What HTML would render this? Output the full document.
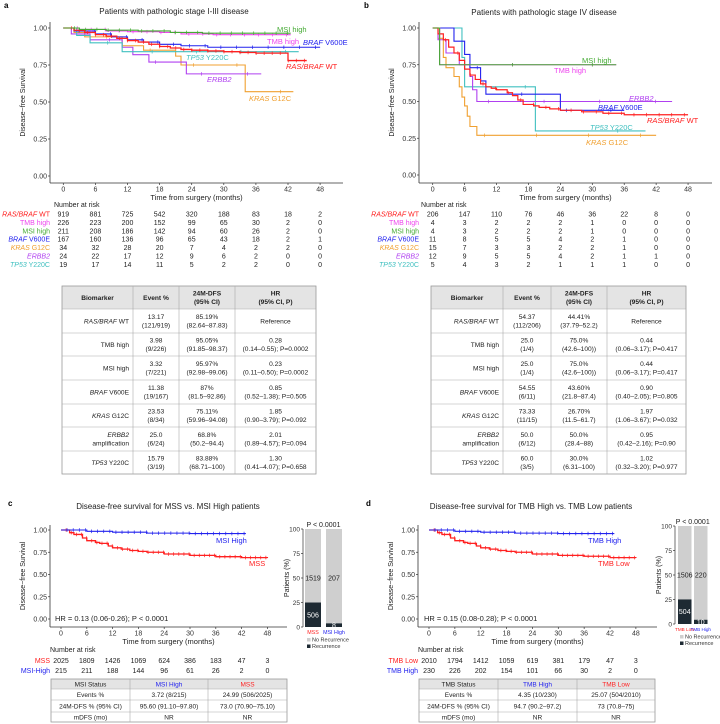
<!DOCTYPE html>
<html><head><meta charset="utf-8"><style>
html,body{margin:0;padding:0;background:#fff}
svg{display:block;font-family:"Liberation Sans",Arial,sans-serif}
</style></head><body>
<svg id="fig" width="720" height="724" viewBox="0 0 720 724" xmlns="http://www.w3.org/2000/svg"></svg>
<script>
// ---------- DATA ----------
const timeTicks = [0,6,12,18,24,30,36,42,48];
const survTicks = [0,0.25,0.5,0.75,1];
const survTickLabels = ["0.00","0.25","0.50","0.75","1.00"];
// Panel a (stage I-III)
const a_ras_t=[0,2,4,6,8,10,12,14,16,18,20,22,24,27,30,33,36,42,45.5];
const a_ras_s=[1,0.985,0.97,0.955,0.945,0.93,0.915,0.905,0.89,0.875,0.865,0.855,0.85,0.845,0.84,0.835,0.83,0.78,0.78];
const a_tmb_t=[0,3,8,12,18,22,28,42.5];
const a_tmb_s=[1,0.99,0.98,0.975,0.97,0.96,0.955,0.955];
const a_msi_t=[0,3,8,14,20,26,42.5];
const a_msi_s=[1,0.99,0.985,0.98,0.97,0.965,0.965];
const a_braf_t=[0,2,6,9,12,15,18,22,27,48];
const a_braf_s=[1,0.98,0.96,0.94,0.92,0.905,0.89,0.88,0.87,0.87];
const a_kras_t=[0,2,4,11,15,21,22,34,43];
const a_kras_s=[1,0.97,0.94,0.88,0.85,0.81,0.75,0.57,0.57];
const a_erbb2_t=[0,1.5,5,11,13,16,23,37];
const a_erbb2_s=[1,0.96,0.92,0.87,0.82,0.77,0.69,0.69];
const a_tp53_t=[0,2.5,5,11,44];
const a_tp53_s=[1,0.95,0.9,0.84,0.84];
// Panel b (stage IV)
const b_ras_t=[0,1,2,3,4,5,6,7,8,9,10,11,12,14,15,16,17,19,20,22,24,28,32,36,48];
const b_ras_s=[1,0.96,0.92,0.87,0.83,0.78,0.72,0.68,0.65,0.62,0.6,0.59,0.58,0.56,0.54,0.51,0.48,0.47,0.46,0.45,0.44,0.43,0.42,0.41,0.41];
const b_tmb_t=[0,1.3,34.5];
const b_tmb_s=[1,0.75,0.75];
const b_msi_t=[0,1.3,34.5];
const b_msi_s=[1,0.75,0.75];
const b_braf_t=[0,4,6,7,9,10,24,36];
const b_braf_s=[1,0.91,0.82,0.73,0.64,0.55,0.44,0.44];
const b_kras_t=[0,1,2,2.5,4,5,5.5,6,6.5,7,8.3,42];
const b_kras_s=[1,0.93,0.8,0.73,0.67,0.6,0.53,0.47,0.4,0.33,0.27,0.27];
const b_erbb2_t=[0,1,2.5,5,7,7.5,8.3,45];
const b_erbb2_s=[1,0.92,0.83,0.75,0.67,0.58,0.5,0.5];
const b_tp53_t=[0,5.5,6,19.3,40];
const b_tp53_s=[1,0.8,0.6,0.3,0.3];
// Panel c
const c_mss_t=[0,2,3,5,6,8,9,11,12,14,16,18,20,24,30,36,42,48];
const c_mss_s=[1,0.97,0.95,0.91,0.88,0.86,0.85,0.82,0.8,0.785,0.77,0.76,0.75,0.73,0.715,0.7,0.69,0.685];
const c_msi_t=[0,6,12,20,30,43];
const c_msi_s=[1,0.985,0.975,0.965,0.96,0.96];
// Panel d
const d_low_t=[0,2,3,5,6,8,9,11,12,14,16,18,20,24,30,36,42,48];
const d_low_s=[1,0.97,0.95,0.91,0.88,0.86,0.85,0.82,0.8,0.785,0.77,0.76,0.75,0.73,0.715,0.705,0.69,0.685];
const d_high_t=[0,6,12,20,30,43];
const d_high_s=[1,0.985,0.975,0.965,0.96,0.96];
// Bars
const c_groups=["MSS","MSI High"];
const c_rec=[506,8];
const c_norec=[1519,207];
const d_groups=["TMB Low","TMB High"];
const d_rec=[504,10];
const d_norec=[1506,220];
// Risk tables
const a_risk=[[919,881,725,542,320,188,83,18,2],[226,223,200,152,99,65,30,2,0],[211,208,186,142,94,60,26,2,0],[167,160,136,96,65,43,18,2,1],[34,32,28,20,7,4,2,2,0],[24,22,17,12,9,6,2,0,0],[19,17,14,11,5,2,2,0,0]];
const b_risk=[[206,147,110,76,46,36,22,8,0],[4,3,2,2,2,1,0,0,0],[4,3,2,2,2,1,0,0,0],[11,8,5,5,4,2,1,0,0],[15,7,3,3,2,2,1,0,0],[12,9,5,5,4,2,1,1,0],[5,4,3,2,1,1,1,0,0]];
const c_risk=[[2025,1809,1426,1069,624,386,183,47,3],[215,211,188,144,96,61,26,2,0]];
const d_risk=[[2010,1794,1412,1059,619,381,179,47,3],[230,226,202,154,101,66,30,2,0]];

const C={ras:"#ff2020",tmb:"#ee44ee",msi:"#44aa33",braf:"#2222ee",kras:"#f0a030",erbb2:"#b040f0",tp53:"#40c0c0"};
const NS="http://www.w3.org/2000/svg";
const svg=document.getElementById('fig');
function el(tag,attrs,parent){const e=document.createElementNS(NS,tag);for(const k in attrs)e.setAttribute(k,attrs[k]);(parent||svg).appendChild(e);return e;}
function txt(x,y,s,size,fill,anchor,extra){const t=el('text',Object.assign({x:x,y:y,'font-size':size,fill:fill||'#222','text-anchor':anchor||'start'},extra||{}));t.textContent=s;return t;}
function rich(x,y,parts,size,fill,anchor){const t=el('text',{x:x,y:y,'font-size':size,fill:fill,'text-anchor':anchor||'start'});parts.forEach(p=>{const s=el('tspan',p[1]?{'font-style':'italic'}:{},t);s.textContent=p[0];});return t;}

function axes(P,name){
  const g=el('g',{});
  
  
  el('line',{x1:P.ax,y1:P.top,x2:P.ax,y2:P.base,stroke:'#333','stroke-width':0.8},g);
  el('line',{x1:P.ax,y1:P.base,x2:P.right,y2:P.base,stroke:'#333','stroke-width':0.8},g);
  survTicks.forEach((v,i)=>{const y=P.sy(v);el('line',{x1:P.ax-2,y1:y,x2:P.ax,y2:y,stroke:'#333','stroke-width':0.7},g);txt(P.ax-3,y+2.5,survTickLabels[i],P.fs,'#333','end');});
  timeTicks.forEach(t=>{const x=P.sx(t);el('line',{x1:x,y1:P.base,x2:x,y2:P.base+2,stroke:'#333','stroke-width':0.7},g);txt(x,P.base+8.5,String(t),P.fs,'#333','middle');});
  const xt=txt((P.ax+P.right)/2,P.base+17,'Time from surgery (months)',P.fs+0.5,'#222','middle');
  const yt=txt(0,0,'Disease−free Survival',P.fs,'#222','middle',{transform:`translate(${P.ytx},${(P.top+P.base)/2}) rotate(-90)`});
}
function stepAt(T,S,t){let s=S[0];for(let i=0;i<T.length;i++){if(T[i]<=t)s=S[i];}return s;}
function curve(P,T,S,color,name,w,ncens){
  let d=`M${P.sx(T[0])},${P.sy(S[0])}`;
  for(let i=1;i<T.length;i++){d+=`H${P.sx(T[i])}V${P.sy(S[i])}`;}
  const p=el('path',{d:d,fill:'none',stroke:color,'stroke-width':w||1.1});
  
  
  const end=T[T.length-1];const n=ncens||6;
  for(let k=1;k<=n;k++){const t=end*k/(n+0.3);const y=P.sy(stepAt(T,S,t));const x=P.sx(t);el('line',{x1:x,y1:y-1.8,x2:x,y2:y+1.8,stroke:color,'stroke-width':0.7});}
}
function risk(P,rows,labels,y0,dy,fs){
  const h=txt(P.ax-(P.riskHeadOff||0),y0-dy-1,'Number at risk',fs,'#222','start');
  rows.forEach((r,i)=>{const y=y0+i*dy;const lab=rich(P.ax,y,labels[i][0],fs,labels[i][1],'end');
    r.forEach((v,j)=>{const t=txt(P.sx(timeTicks[j]),y,String(v),fs,'#222','middle');});});
}
function table(x,cols,ys,header,rows,fs,hdrBold,headColors){
  const g=el('g',{});
  
  
  const x1=cols[cols.length-1];
  el('rect',{x:x,y:ys[0],width:x1-x,height:ys[1]-ys[0],fill:'#e4e4e4'},g);
  el('rect',{x:x,y:ys[0],width:x1-x,height:ys[ys.length-1]-ys[0],fill:'none',stroke:'#999','stroke-width':0.8},g);
  ys.slice(1,-1).forEach(y=>el('line',{x1:x,y1:y,x2:x1,y2:y,stroke:'#aaa','stroke-width':0.6},g));
  cols.slice(0,-1).forEach((c,i)=>{if(i>0)el('line',{x1:c,y1:ys[0],x2:c,y2:ys[ys.length-1],stroke:'#aaa','stroke-width':0.6},g);});
  const all=[header].concat(rows);
  all.forEach((row,ri)=>{const ya=ys[ri],yb=ys[ri+1];row.forEach((cell,ci)=>{
    const xa=ci===0?x:cols[ci],xb=cols[ci+1];const lines=cell.lines;const cx=cell.align==='end'?xb-4:(xa+xb)/2;
    const lh=fs*1.3;const startY=(ya+yb)/2-(lines.length-1)*lh/2+fs*0.35;
    lines.forEach((ln,li)=>{const t=rich(cx,startY+li*lh,ln,fs,(ri===0&&headColors)?headColors[ci]:'#222',cell.align==='end'?'end':'middle');if(ri===0&&hdrBold)t.setAttribute('font-weight','bold');});
  });});
}
function bars(B,groups,rec,norec,name){
  const g=el('g',{});
  
  
  const sy=v=>B.y0-(v/100)*(B.y0-B.y100);
  el('line',{x1:B.ax,y1:B.y100,x2:B.ax,y2:B.y0,stroke:'#333','stroke-width':0.7},g);
  [0,25,50,75,100].forEach(v=>{el('line',{x1:B.ax-2,y1:sy(v),x2:B.ax,y2:sy(v),stroke:'#333','stroke-width':0.7},g);txt(B.ax-3,sy(v)+2.5,String(v),6.5,'#333','end',{},g);});
  const yt=txt(0,0,'Patients (%)',7,'#222','middle',{transform:`translate(${B.ax-14},${(B.y0+B.y100)/2}) rotate(-90)`});
  groups.forEach((gname,i)=>{
    const tot=rec[i]+norec[i];const pr=rec[i]/tot*100;const x=B.xs[i],w=B.w;
    const r1=el('rect',{x:x,y:sy(100),width:w,height:sy(pr)-sy(100),fill:'#cfcfcf'},g);
    const r2=el('rect',{x:x,y:sy(pr),width:w,height:sy(0)-sy(pr),fill:'#1e2a33'},g);
    txt(x+w/2,sy(50)+2.5,String(norec[i]),7,'#222','middle');
    txt(x+w/2,sy(pr/2)+2.5,String(rec[i]),7,'#fff','middle');
    txt(x+w/2,B.y0+7,gname,B.gfs||5.5,B.cols[i],'middle');
  });
  txt((B.xs[0]+B.xs[1]+B.w)/2,B.y100-2,'P < 0.0001',7,'#222','middle');
  const lx=B.xs[0]+2;
  el('rect',{x:lx,y:B.y0+11,width:3.5,height:3.5,fill:'#cfcfcf'},g);txt(lx+5,B.y0+14.5,'No Recurrence',5.5,'#333','start');
  el('rect',{x:lx,y:B.y0+17.5,width:3.5,height:3.5,fill:'#1e2a33'},g);txt(lx+5,B.y0+21,'Recurrence',5.5,'#333','start');
}

// ---------- PANEL A ----------
const PA={ax:50,top:22,base:183,right:343,fs:7,ytx:25,sx:t=>63.3+t*5.35,sy:s=>176-s*148};
txt(4,8,'a',8,'#000','start',{'font-weight':'bold'});
txt(174,14,'Patients with pathologic stage I-III disease',8,'#222','middle');
axes(PA,'panel-a');
curve(PA,a_kras_t,a_kras_s,C.kras,'a-kras',1.1,5);
curve(PA,a_erbb2_t,a_erbb2_s,C.erbb2,'a-erbb2',1.1,4);
curve(PA,a_tp53_t,a_tp53_s,C.tp53,'a-tp53',1.1,5);
curve(PA,a_braf_t,a_braf_s,C.braf,'a-braf',1.1,16);
curve(PA,a_ras_t,a_ras_s,C.ras,'a-ras',1.3,30);
curve(PA,a_tmb_t,a_tmb_s,C.tmb,'a-tmb',1.1,16);
curve(PA,a_msi_t,a_msi_s,C.msi,'a-msi',1.1,20);
rich(277,32,[['MSI high',0]],7.5,C.msi);
rich(267,44,[['TMB high',0]],7.5,C.tmb);
rich(303,45,[['BRAF',1],[' V600E',0]],7.5,C.braf);
rich(186,60,[['TP53',1],[' Y220C',0]],7.5,C.tp53);
rich(286,69,[['RAS/BRAF',1],[' WT',0]],7.5,C.ras);
rich(207,82,[['ERBB2',1]],7.5,C.erbb2);
rich(249,101,[['KRAS',1],[' G12C',0]],7.5,C.kras);
const riskLabels=[[[['RAS/BRAF',1],[' WT',0]],C.ras],[[['TMB high',0]],C.tmb],[[['MSI high',0]],C.msi],[[['BRAF',1],[' V600E',0]],C.braf],[[['KRAS',1],[' G12C',0]],C.kras],[[['ERBB2',1]],C.erbb2],[[['TP53',1],[' Y220C',0]],C.tp53]];
PA.riskHeadOff=-4;
risk(PA,a_risk,riskLabels,216.5,8.4,7);

// ---------- PANEL B ----------
const PB={ax:419,top:22,base:183,right:712,fs:7,ytx:394,sx:t=>432.7+t*5.32,sy:s=>175-s*147};
txt(364,8,'b',8,'#000','start',{'font-weight':'bold'});
txt(544,15,'Patients with pathologic stage IV disease',8,'#222','middle');
axes(PB,'panel-b');
curve(PB,b_kras_t,b_kras_s,C.kras,'b-kras',1.1,4);
curve(PB,b_tp53_t,b_tp53_s,C.tp53,'b-tp53',1.1,2);
curve(PB,b_erbb2_t,b_erbb2_s,C.erbb2,'b-erbb2',1.1,4);
curve(PB,b_braf_t,b_braf_s,C.braf,'b-braf',1.1,4);
curve(PB,b_ras_t,b_ras_s,C.ras,'b-ras',1.2,20);
curve(PB,b_tmb_t,b_tmb_s,C.tmb,'b-tmb',1.1,2);
curve(PB,b_msi_t,b_msi_s,C.msi,'b-msi',1.1,2);
rich(582,63,[['MSI high',0]],7.5,C.msi);
rich(554,73,[['TMB high',0]],7.5,C.tmb);
rich(629,101,[['ERBB2',1]],7.5,C.erbb2);
rich(598,110,[['BRAF',1],[' V600E',0]],7.5,C.braf);
rich(647,123,[['RAS/BRAF',1],[' WT',0]],7.5,C.ras);
rich(590,130,[['TP53',1],[' Y220C',0]],7.5,C.tp53);
rich(586,145,[['KRAS',1],[' G12C',0]],7.5,C.kras);
PB.riskHeadOff=-2;
risk(PB,b_risk,riskLabels,216.5,8.4,7);

// ---------- TABLES a/b ----------
const tys=[286,309,333,356,380,404,427,451,474];
const hdr=[{lines:[[['Biomarker',0]]]},{lines:[[['Event %',0]]]},{lines:[[['24M-DFS',0]],[['(95% CI)',0]]]},{lines:[[['HR',0]],[['(95% CI, P)',0]]]}];
const bmk=[[['RAS/BRAF',1],[' WT',0]],[['TMB high',0]],[['MSI high',0]],[['BRAF',1],[' V600E',0]],[['KRAS',1],[' G12C',0]],null,[['TP53',1],[' Y220C',0]]];
function bmCell(i){return i===5?{lines:[[['ERBB2',1]],[['amplification',0]]],align:'end'}:{lines:[bmk[i]],align:'end'};}
const a_tab=[["13.17","(121/919)","85.19%","(82.64–87.83)","Reference",""],["3.98","(9/226)","95.05%","(91.85–98.37)","0.28","(0.14–0.55); P=0.0002"],["3.32","(7/221)","95.97%","(92.98–99.06)","0.23","(0.11–0.50); P=0.0002"],["11.38","(19/167)","87%","(81.5–92.86)","0.85","(0.52–1.38); P=0.505"],["23.53","(8/34)","75.11%","(59.96–94.08)","1.85","(0.90–3.79); P=0.092"],["25.0","(6/24)","68.8%","(50.2–94.4)","2.01","(0.89–4.57); P=0.094"],["15.79","(3/19)","83.88%","(68.71–100)","1.30","(0.41–4.07); P=0.658"]];
const b_tab=[["54.37","(112/206)","44.41%","(37.79–52.2)","Reference",""],["25.0","(1/4)","75.0%","(42.6–100))","0.44","(0.06–3.17); P=0.417"],["25.0","(1/4)","75.0%","(42.6–100))","0.44","(0.06–3.17); P=0.417"],["54.55","(6/11)","43.60%","(21.8–87.4)","0.90","(0.40–2.05); P=0.805"],["73.33","(11/15)","26.70%","(11.5–61.7)","1.97","(1.06–3.67); P=0.032"],["50.0","(6/12)","50.0%","(28.4–88)","0.95","(0.42–2.16); P=0.90"],["60.0","(3/5)","30.0%","(6.31–100)","1.02","(0.32–3.20); P=0.977"]];
function mkRows(T){return T.map((r,i)=>[bmCell(i),{lines:[[[r[0],0]],[[r[1],0]]]},{lines:[[[r[2],0]],[[r[3],0]]]},{lines:r[5]?[[[r[4],0]],[[r[5],0]]]:[[[r[4],0]]]}]);}
table(62,[62,133,179,235,316],tys,hdr,mkRows(a_tab),6.6,true);
table(431,[431,503,551,607,686],tys,hdr,mkRows(b_tab),6.6,true);

// ---------- PANEL C ----------
const PC={ax:50,top:525,base:627,right:287,fs:7,ytx:25,sx:t=>61+t*4.3,sy:s=>619-s*89};
txt(8,506,'c',8,'#000','start',{'font-weight':'bold'});
txt(168,509,'Disease-free survival for MSS vs. MSI High patients',8,'#222','middle');
axes(PC,'panel-c');
curve(PC,c_mss_t,c_mss_s,C.ras,'c-mss',1.3,40);
curve(PC,c_msi_t,c_msi_s,C.braf,'c-msi-high',1.1,30);
txt(216,543,'MSI High',7.5,C.braf);
txt(249,566,'MSS',7.5,C.ras);
txt(55,621,'HR = 0.13 (0.06-0.26); P < 0.0001',7.5,'#222');
risk(PC,c_risk,[[[['MSS',0]],C.ras],[[['MSI-High',0]],C.braf]],663,9.8,7);
bars({ax:303,y100:529,y0:627,xs:[305,326],w:16,cols:[C.ras,C.braf],gfs:5.3},c_groups,c_rec,c_norec,'panel-c-bar-chart');
const ctys=[679,689,700,712,722];
table(51,[51,130,208,287],ctys,[{lines:[[['MSI Status',0]]]},{lines:[[['MSI High',0]]]},{lines:[[['MSS',0]]]}],
 [[{lines:[[['Events %',0]]]},{lines:[[['3.72 (8/215)',0]]]},{lines:[[['24.99 (506/2025)',0]]]}],
  [{lines:[[['24M-DFS % (95% CI)',0]]]},{lines:[[['95.60 (91.10–97.80)',0]]]},{lines:[[['73.0 (70.90–75.10)',0]]]}],
  [{lines:[[['mDFS (mo)',0]]]},{lines:[[['NR',0]]]},{lines:[[['NR',0]]]}]],6.5,false,['#222',C.braf,C.ras]);

// ---------- PANEL D ----------
const PD={ax:418,top:525,base:627,right:657,fs:7,ytx:393,sx:t=>429+t*4.31,sy:s=>619-s*89};
txt(366,506,'d',8,'#000','start',{'font-weight':'bold'});
txt(531,509,'Disease-free survival for TMB High vs. TMB Low patients',8,'#222','middle');
axes(PD,'panel-d');
curve(PD,d_low_t,d_low_s,C.ras,'d-tmb-low',1.3,40);
curve(PD,d_high_t,d_high_s,C.braf,'d-tmb-high',1.1,30);
txt(588,543,'TMB High',7.5,C.braf);
txt(598,566,'TMB Low',7.5,C.ras);
txt(424,621,'HR = 0.15 (0.08-0.28); P < 0.0001',7.5,'#222');
risk(PD,d_risk,[[[['TMB Low',0]],C.ras],[[['TMB High',0]],C.braf]],663,9.8,7);
bars({ax:675,y100:526,y0:624,xs:[678,694],w:13.5,cols:[C.ras,C.braf],gfs:4.6},d_groups,d_rec,d_norec,'panel-d-bar-chart');
table(419,[419,498,577,655],ctys,[{lines:[[['TMB Status',0]]]},{lines:[[['TMB High',0]]]},{lines:[[['TMB Low',0]]]}],
 [[{lines:[[['Events %',0]]]},{lines:[[['4.35 (10/230)',0]]]},{lines:[[['25.07 (504/2010)',0]]]}],
  [{lines:[[['24M-DFS % (95% CI)',0]]]},{lines:[[['94.7 (90.2–97.2)',0]]]},{lines:[[['73 (70.8–75)',0]]]}],
  [{lines:[[['mDFS (mo)',0]]]},{lines:[[['NR',0]]]},{lines:[[['NR',0]]]}]],6.5,false,['#222',C.braf,C.ras]);
</script>
</body></html>
